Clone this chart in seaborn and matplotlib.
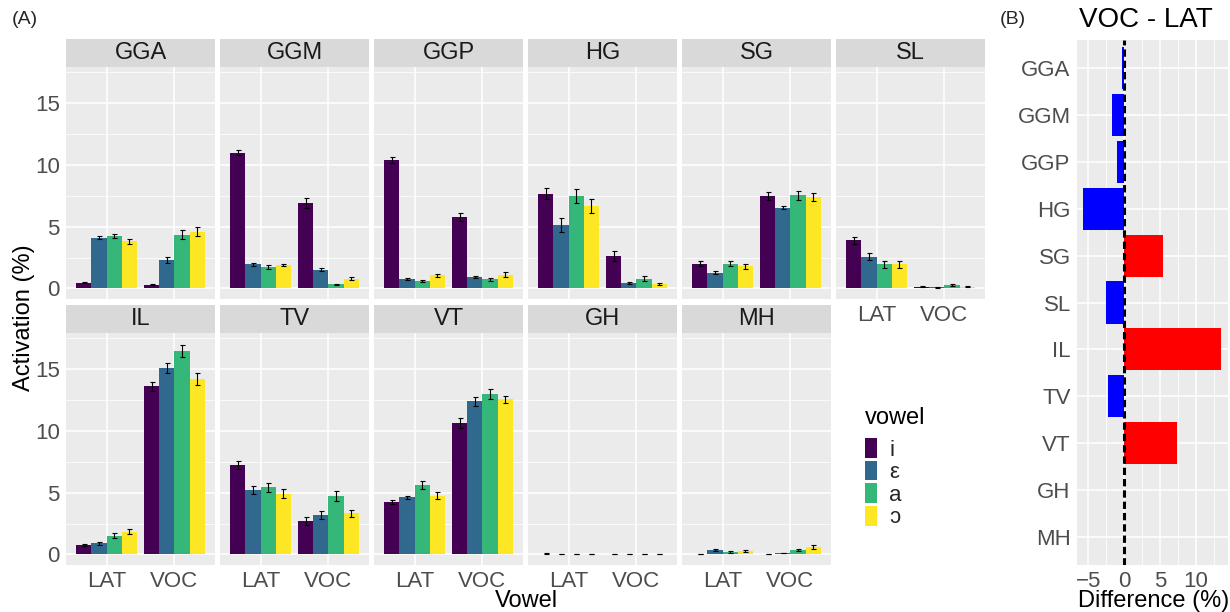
import numpy as np
import pandas as pd
import matplotlib
matplotlib.use("Agg")
import matplotlib.pyplot as plt
from matplotlib.patches import Rectangle, Patch
from matplotlib.ticker import MultipleLocator
import seaborn as sns

# data
regions = ["GGA", "GGM", "GGP", "HG", "SG", "SL", "IL", "TV", "VT", "GH", "MH"]
vowels = ["i", "ε", "a", "ɔ"]
conditions = ["LAT", "VOC"]

lat_mean = [
    [0.48, 4.10, 4.25, 3.80],    # GGA
    [10.97, 1.94, 1.75, 1.88],   # GGM
    [10.40, 0.73, 0.60, 1.08],   # GGP
    [7.66, 5.13, 7.45, 6.67],    # HG
    [2.00, 1.29, 2.00, 1.80],    # SG
    [3.90, 2.58, 1.94, 1.94],    # SL
    [0.78, 0.89, 1.53, 1.85],    # IL
    [7.23, 5.20, 5.43, 4.92],    # TV
    [4.27, 4.62, 5.62, 4.76],    # VT
    [0.06, 0.01, 0.01, 0.01],    # GH
    [0.01, 0.38, 0.20, 0.32],    # MH
]
voc_mean = [
    [0.30, 2.30, 4.35, 4.60],
    [6.88, 1.53, 0.35, 0.80],
    [5.78, 0.94, 0.73, 1.13],
    [2.63, 0.43, 0.80, 0.35],
    [7.47, 6.53, 7.53, 7.39],
    [0.13, 0.08, 0.30, 0.16],
    [13.60, 15.10, 16.45, 14.20],
    [2.72, 3.20, 4.76, 3.33],
    [10.65, 12.37, 13.00, 12.53],
    [0.01, 0.01, 0.01, 0.01],
    [0.05, 0.13, 0.35, 0.62],
]
lat_se = [
    [0.05, 0.12, 0.15, 0.20],
    [0.20, 0.15, 0.15, 0.10],
    [0.25, 0.08, 0.10, 0.12],
    [0.45, 0.55, 0.55, 0.60],
    [0.20, 0.15, 0.20, 0.20],
    [0.30, 0.30, 0.25, 0.30],
    [0.10, 0.10, 0.22, 0.22],
    [0.35, 0.35, 0.35, 0.35],
    [0.15, 0.10, 0.35, 0.25],
    [0.02, 0.01, 0.01, 0.01],
    [0.01, 0.08, 0.05, 0.08],
]
voc_se = [
    [0.05, 0.25, 0.35, 0.35],
    [0.40, 0.15, 0.05, 0.10],
    [0.35, 0.10, 0.15, 0.20],
    [0.40, 0.10, 0.20, 0.10],
    [0.30, 0.10, 0.35, 0.30],
    [0.05, 0.03, 0.10, 0.05],
    [0.35, 0.40, 0.50, 0.50],
    [0.30, 0.30, 0.40, 0.30],
    [0.40, 0.35, 0.40, 0.30],
    [0.01, 0.01, 0.01, 0.01],
    [0.02, 0.03, 0.08, 0.15],
]
# VOC - LAT difference
diff = [-0.25, -1.7, -1.0, -5.65, 5.45, -2.45, 13.5, -2.2, 7.3, -0.05, 0.02]

rows = []
for r, reg in enumerate(regions):
    for cond, m, s in [("LAT", lat_mean, lat_se), ("VOC", voc_mean, voc_se)]:
        for v, vow in enumerate(vowels):
            rows.append({"region": reg, "condition": cond, "vowel": vow,
                         "activation": m[r][v], "se": s[r][v]})
df = pd.DataFrame(rows)

sns.set_theme(style="darkgrid")
plt.rcParams["font.family"] = ["Liberation Sans", "DejaVu Sans"]

W, H = 1230, 612
fig = plt.figure(figsize=(W / 100, H / 100), dpi=100)


def box(x0, y0, x1, y1):
    return [x0 / W, 1 - y1 / H, (x1 - x0) / W, (y1 - y0) / H]


pal = {"i": "#440154", "ε": "#31688E", "a": "#35B779", "ɔ": "#FDE725"}
TICK = 16
STRIP = 17
TITLE = 17

for k, reg in enumerate(regions):
    row, col = (0, k) if k < 6 else (1, k - 6)
    x0 = 66 + col * 154
    y0 = 67 if row == 0 else 333
    ax = fig.add_axes(box(x0, y0, x0 + 149, y0 + 232))
    sub = df[df.region == reg]
    sns.barplot(data=sub, x="condition", y="activation", hue="vowel",
                order=conditions, hue_order=vowels, palette=pal, width=0.9,
                saturation=1, errorbar=None, legend=False, linewidth=0, ax=ax)
    for cont, vow in zip(ax.containers, vowels):
        for bar, cond in zip(cont, conditions):
            se = sub[(sub.vowel == vow) & (sub.condition == cond)]["se"].iloc[0]
            ax.errorbar(bar.get_x() + bar.get_width() / 2, bar.get_height(),
                        yerr=se, color="black", lw=0.8, capsize=1.8, capthick=0.8)
    ax.set_xlim(-0.6, 1.6)
    ax.set_ylim(-0.85, 17.9)
    ax.set_facecolor("#EBEBEB")
    ax.yaxis.set_major_locator(MultipleLocator(5))
    ax.yaxis.set_minor_locator(MultipleLocator(2.5))
    ax.grid(which="major", color="white", lw=1.1)
    ax.grid(which="minor", axis="y", color="white", lw=0.55)
    ax.set_axisbelow(True)
    for sp in ax.spines.values():
        sp.set_visible(False)
    ax.set_xlabel("")
    ax.set_ylabel("")
    ax.tick_params(axis="both", which="major", length=3, width=0.8,
                   color="#333333", labelcolor="#4D4D4D", labelsize=TICK, pad=1.5)
    ax.tick_params(which="minor", length=0)
    if col != 0:
        ax.tick_params(axis="y", length=0, labelleft=False)
    if row == 0 and col != 5:
        ax.tick_params(axis="x", length=0, labelbottom=False)
    # strip
    ax.add_patch(Rectangle((0, 1), 1, 28 / 232, transform=ax.transAxes,
                           color="#D9D9D9", clip_on=False, lw=0))
    ax.text(0.5, 1 + 14 / 232, reg, transform=ax.transAxes, ha="center",
            va="center", fontsize=STRIP, color="#1A1A1A")

fig.text(24 / W, 1 - 318 / H, "Activation (%)", rotation=90, ha="center",
         va="center", fontsize=TITLE, color="black")
fig.text(526 / W, 1 - 601 / H, "Vowel", ha="center", va="center",
         fontsize=TITLE, color="black")

# legend
fig.text(865 / W, 1 - 418 / H, "vowel", ha="left", va="center",
         fontsize=TITLE, color="black")
handles = [Patch(facecolor=pal[v], edgecolor="none") for v in vowels]
leg = fig.legend(handles, vowels, loc="upper left",
                 bbox_to_anchor=(865 / W, 1 - 438 / H), frameon=False,
                 fontsize=TICK, handlelength=0.54, handleheight=1.0,
                 labelspacing=0, handletextpad=0.55, borderpad=0,
                 borderaxespad=0)

# panel B
axb = fig.add_axes(box(1077, 40, 1228, 565))
dfb = pd.DataFrame({"region": regions, "diff": diff,
                    "sign": ["neg" if d < 0 else "pos" for d in diff]})
sns.barplot(data=dfb, x="diff", y="region", hue="sign", order=regions,
            palette={"neg": "#0000FF", "pos": "#FF0000"}, orient="h",
            width=0.9, dodge=False, saturation=1, legend=False, linewidth=0,
            ax=axb)
axb.axvline(0, color="black", lw=2.2, ls=(0, (2.4, 1.3)))
axb.set_xlim(-6.55, 14.45)
axb.set_ylim(10.6, -0.6)
axb.xaxis.set_major_locator(MultipleLocator(5))
axb.xaxis.set_minor_locator(MultipleLocator(2.5))
axb.set_facecolor("#EBEBEB")
axb.grid(which="major", color="white", lw=1.1)
axb.grid(which="minor", axis="x", color="white", lw=0.55)
axb.set_axisbelow(True)
for sp in axb.spines.values():
    sp.set_visible(False)
axb.set_ylabel("")
axb.set_xlabel("")
axb.tick_params(axis="both", which="major", length=3, width=0.8,
                color="#333333", labelcolor="#4D4D4D", labelsize=TICK, pad=1.5)
axb.tick_params(which="minor", length=0)
fig.text(1154 / W, 1 - 601 / H, "Difference (%)", ha="center", va="center",
         fontsize=TITLE, color="black")
fig.text(1079 / W, 1 - 20 / H, "VOC - LAT", ha="left", va="center",
         fontsize=20, color="black")

fig.text(12 / W, 1 - 19 / H, "(A)", ha="left", va="center", fontsize=14)
fig.text(1000 / W, 1 - 19 / H, "(B)", ha="left", va="center", fontsize=14)

fig.savefig("out.png", dpi=100)
